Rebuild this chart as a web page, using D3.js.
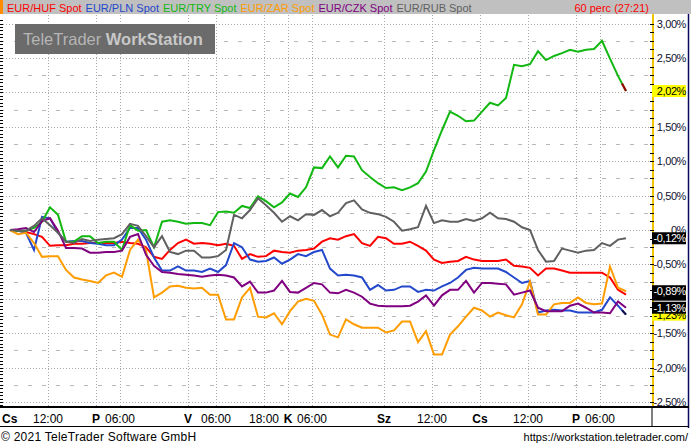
<!DOCTYPE html>
<html><head><meta charset="utf-8">
<script src="https://cdn.jsdelivr.net/npm/d3@7/dist/d3.min.js"></script>
<style>
body{margin:0;background:#fff;}
svg{display:block;font-family:"Liberation Sans",Arial,sans-serif;}
</style></head><body>
<svg id="c" width="691" height="446"></svg>
<script>
// ---------- data ----------
const seriesNames = ["EUR/HUF", "EUR/PLN", "EUR/TRY", "EUR/ZAR", "EUR/CZK", "EUR/RUB"];
const seriesColors = ["#ff0000", "#2448cc", "#12b812", "#ff9c00", "#800080", "#606060"];
const periodLabel = "60 perc (27:21)";

const hufValues = [0, -0.01, -0.03, -0.06, -0.10, -0.23, -0.22, -0.22, -0.20, -0.20,
  -0.19, -0.19, -0.19, -0.19, -0.17, -0.19, -0.20, -0.25, -0.39, -0.42,
  -0.29, -0.19, -0.14, -0.20, -0.19, -0.20, -0.22, -0.20, -0.23, -0.42,
  -0.35, -0.39, -0.38, -0.30, -0.32, -0.33, -0.30, -0.29, -0.27, -0.17,
  -0.12, -0.14, -0.09, -0.06, -0.19, -0.23, -0.10, -0.12, -0.20, -0.20,
  -0.17, -0.23, -0.30, -0.43, -0.48, -0.46, -0.45, -0.39, -0.43, -0.45,
  -0.45, -0.45, -0.43, -0.52, -0.53, -0.55, -0.66, -0.56, -0.56, -0.59,
  -0.62, -0.62, -0.62, -0.62, -0.62, -0.69, -0.87, -0.94];
const plnValues = [0, -0.01, -0.04, -0.29, 0.19, 0.17, -0.04, -0.17, -0.16, -0.16,
  -0.19, -0.20, -0.22, -0.22, -0.14, 0.03, 0.03, -0.14, -0.40, -0.59,
  -0.59, -0.53, -0.59, -0.59, -0.61, -0.56, -0.61, -0.51, -0.19, -0.25,
  -0.43, -0.46, -0.45, -0.40, -0.49, -0.43, -0.35, -0.38, -0.32, -0.29,
  -0.56, -0.66, -0.65, -0.66, -0.69, -0.87, -0.80, -0.88, -0.87, -0.82,
  -0.82, -0.90, -0.87, -0.88, -0.82, -0.77, -0.69, -0.58, -0.55, -0.56,
  -0.56, -0.56, -0.61, -0.69, -0.77, -0.74, -1.20, -1.17, -1.16, -1.17,
  -1.17, -1.20, -1.20, -1.20, -1.16, -0.98, -1.10, -1.23];
const tryValues = [0.00, -0.01, -0.01, 0.03, 0.12, 0.33, 0.22, -0.17, -0.17, -0.09,
  -0.09, -0.19, -0.17, -0.17, -0.29, 0.07, -0.01, 0.00, -0.25, 0.12,
  0.14, 0.12, 0.09, 0.10, 0.10, 0.07, 0.26, 0.27, 0.25, 0.35,
  0.32, 0.49, 0.42, 0.33, 0.40, 0.53, 0.48, 0.62, 0.91, 0.90,
  1.07, 0.91, 1.08, 1.07, 0.87, 0.77, 0.68, 0.61, 0.62, 0.58,
  0.62, 0.68, 0.85, 1.16, 1.45, 1.72, 1.66, 1.58, 1.59, 1.72,
  1.85, 1.81, 1.92, 2.40, 2.38, 2.41, 2.60, 2.47, 2.53, 2.57,
  2.62, 2.59, 2.62, 2.63, 2.75, 2.49, 2.24, 2.02];
const zarValues = [0, -0.06, -0.04, -0.19, -0.39, -0.38, -0.38, -0.58, -0.69, -0.72,
  -0.74, -0.77, -0.66, -0.62, -0.68, -0.29, -0.14, -0.29, -0.98, -0.91,
  -0.82, -0.81, -0.84, -0.85, -0.84, -0.94, -0.94, -1.30, -1.30, -0.98,
  -0.84, -1.26, -1.27, -1.21, -1.37, -1.18, -1.04, -1.00, -1.03, -1.23,
  -1.52, -1.56, -1.30, -1.37, -1.42, -1.42, -1.42, -1.49, -1.46, -1.33,
  -1.33, -1.63, -1.47, -1.81, -1.81, -1.52, -1.40, -1.26, -1.13, -1.17,
  -1.26, -1.20, -1.24, -1.27, -1.08, -0.75, -1.23, -1.23, -1.08, -1.06,
  -1.06, -0.98, -1.06, -1.08, -1.07, -0.53, -0.84, -0.89];
const czkValues = [0, 0.01, 0.03, -0.03, 0.13, 0.17, -0.01, -0.26, -0.26, -0.27,
  -0.33, -0.33, -0.32, -0.32, -0.30, -0.10, -0.06, -0.36, -0.52, -0.61,
  -0.62, -0.64, -0.65, -0.66, -0.68, -0.66, -0.65, -0.66, -0.69, -0.82,
  -0.75, -0.91, -0.91, -0.88, -0.74, -0.90, -0.91, -0.84, -0.77, -0.79,
  -0.91, -0.92, -0.87, -0.91, -0.97, -1.07, -1.10, -1.11, -1.11, -1.11,
  -1.10, -1.04, -0.95, -1.10, -0.95, -0.87, -0.87, -0.74, -0.91, -0.77,
  -0.77, -0.78, -0.79, -0.94, -0.91, -0.88, -1.13, -1.18, -1.18, -1.18,
  -1.10, -1.07, -1.13, -1.20, -1.20, -1.21, -1.04, -1.13];
const rubValues = [0, -0.01, -0.01, 0.06, 0.17, 0.07, -0.04, -0.17, -0.19, -0.13,
  -0.16, -0.14, -0.13, -0.12, -0.06, 0.09, 0.06, -0.09, -0.25, -0.09,
  -0.32, -0.35, -0.30, -0.30, -0.40, -0.40, -0.38, -0.29, 0.22, 0.17,
  0.29, 0.46, 0.36, 0.25, 0.12, 0.20, 0.14, 0.23, 0.22, 0.29,
  0.20, 0.25, 0.39, 0.43, 0.30, 0.25, 0.23, 0.19, 0.12, -0.01,
  0.01, 0.04, 0.35, 0.10, 0.14, 0.12, 0.12, 0.16, 0.13, 0.17,
  0.25, 0.17, 0.16, 0.12, 0.04, 0.00, -0.29, -0.46, -0.45, -0.27,
  -0.30, -0.33, -0.30, -0.29, -0.19, -0.23, -0.14, -0.12];

// bar index (60-minute bars) of each sample
const firstBar = 2.5, barStep = 2;
const barIndex = hufValues.map((_, i) => firstBar + barStep * i);

// last-value markers drawn on the price axis, in drawing order
// (HUF marker is hidden under the ZAR one in the original, so only its box shows)
const markerSeries = [2, 5, 1, 0, 3, 4];
const markerStyle = ["yellow", "black", "yellow", "black", "black", "black"];
const markerShowText = [true, true, true, false, true, true];

const yTickValues = [3, 2.5, 1.5, 1, 0.5, 0, -0.5, -1.5, -2, -2.5];
const yMinorStep = 0.125;
const gridBars = [12, 24, 30, 47, 54, 66, 72, 78, 96, 108, 120, 132, 144, 150];
const dayBars = [0, 24, 47, 72, 96, 120, 144];
const dayNames = ["Cs", "P", "V", "K", "Sz", "Cs", "P"];
const timeBars = [12, 30, 54, 66, 78, 108, 132, 150];
const timeNames = ["12:00", "06:00", "06:00", "18:00", "06:00", "12:00", "12:00", "06:00"];

const allSeries = [hufValues, plnValues, tryValues, zarValues, czkValues, rubValues];

// ---------- layout ----------
const W = 691, H = 446;
const plotL = 0, plotR = 652, plotT = 15, plotB = 408;
const x = d3.scaleLinear().domain([0, 163]).range([plotL, plotR]);
const y = d3.scaleLinear().domain([-2.5, 3]).range([402, 23.6]);
const fmt = v => v === 0 ? "0%" : v.toFixed(2).replace(".", ",") + "%";

const svg = d3.select("#c");
svg.append("rect").attr("width", W).attr("height", H).attr("fill", "#fff");

// gridlines
const grid = svg.append("g");
gridBars.forEach(b => {
  grid.append("line").attr("x1", Math.round(x(b)) + 0.5).attr("x2", Math.round(x(b)) + 0.5)
    .attr("y1", plotT).attr("y2", plotB).attr("stroke", "#a8a8a8").attr("stroke-dasharray", "1,2");
});
d3.range(-2.5, 3.01, 0.25).forEach(v => {
  const major = Math.abs(Math.round(v * 2) - v * 2) < 1e-6;
  const yy = Math.round(y(v)) + 0.5;
  grid.append("line").attr("x1", plotL).attr("x2", plotR).attr("y1", yy).attr("y2", yy)
    .attr("stroke", major ? "#a8a8a8" : "#b8b8b8")
    .attr("stroke-dasharray", major ? "1,2" : "4,10");
});

// left ruler ticks
d3.range(-2.55, 3.1, 0.05).forEach(v => {
  const yy = Math.round(y(v)) + 0.5;
  if (yy < plotT || yy > plotB) return;
  svg.append("line").attr("x1", 0).attr("x2", 3).attr("y1", yy).attr("y2", yy).attr("stroke", "#000");
});

// lines
svg.append("clipPath").attr("id", "clip").append("rect")
  .attr("x", plotL).attr("y", plotT).attr("width", plotR - plotL).attr("height", plotB - plotT);
const lineGen = d3.line().x((d, i) => x(barIndex[i])).y(d => y(d));
const lines = svg.append("g").attr("clip-path", "url(#clip)");
allSeries.forEach((s, k) => {
  lines.append("path").attr("d", lineGen(s)).attr("fill", "none")
    .attr("stroke", seriesColors[k]).attr("stroke-width", 2).attr("stroke-linejoin", "miter");
});
// current (last) bar segments
const n = barIndex.length;
[[2, "#a00000"], [1, "#101040"]].forEach(([k, c]) => {
  const s = allSeries[k];
  lines.append("line").attr("x1", x(barIndex[n - 2]) + 4).attr("y1", y(s[n - 2] + (s[n - 1] - s[n - 2]) * 0.5))
    .attr("x2", x(barIndex[n - 1])).attr("y2", y(s[n - 1])).attr("stroke", c).attr("stroke-width", 2);
});

// watermark
svg.append("rect").attr("x", 15).attr("y", 24).attr("width", 200).attr("height", 30).attr("fill", "#6b6b6b");
const wm = svg.append("text").attr("x", 23).attr("y", 45).attr("font-size", 16.5);
wm.append("tspan").attr("fill", "#b5b5b5").text("TeleTrader ");
wm.append("tspan").attr("fill", "#c8c8c8").attr("font-weight", "bold").text("WorkStation");

// header
svg.append("rect").attr("x", 0).attr("y", 0).attr("width", W).attr("height", 14).attr("fill", "#c0c0c0");
svg.append("rect").attr("x", 0).attr("y", 0).attr("width", 3).attr("height", 14).attr("fill", "#ff8c00");
let lx = 7;
seriesNames.forEach((nm, i) => {
  const t = svg.append("text").attr("x", lx).attr("y", 11.5).attr("font-size", 11)
    .attr("fill", seriesColors[i]).text(nm + " Spot");
  lx += t.node().getComputedTextLength() + 4;
});
svg.append("text").attr("x", 649).attr("y", 11.5).attr("font-size", 11).attr("text-anchor", "end")
  .attr("fill", "#ff0000").text(periodLabel);

// right price axis
const ax = svg.append("g");
ax.append("rect").attr("x", 652).attr("y", 14).attr("width", 37).attr("height", 394).attr("fill", "#fff");
ax.append("line").attr("x1", 653).attr("x2", 653).attr("y1", 14).attr("y2", plotB).attr("stroke", "#f2c400").attr("stroke-width", 2);
ax.append("line").attr("x1", 688.5).attr("x2", 688.5).attr("y1", 14).attr("y2", 428).attr("stroke", "#0a0a60").attr("stroke-width", 1.5);
d3.range(-2.5, 3.1, yMinorStep).forEach(v => {
  const yy = Math.round(y(v)) + 0.5;
  ax.append("line").attr("x1", 650).attr("x2", 654).attr("y1", yy).attr("y2", yy).attr("stroke", "#000");
});
yTickValues.forEach(v => {
  ax.append("text").attr("x", 686).attr("y", y(v) + 4).attr("text-anchor", "end")
    .attr("font-size", 11).attr("letter-spacing", -0.4).attr("fill", "#101030").text(fmt(v));
});
markerSeries.forEach((k, j) => {
  const v = allSeries[k][n - 1];
  const yy = y(v);
  const yellow = markerStyle[j] === "yellow";
  ax.append("rect").attr("x", 652).attr("y", yy - 6).attr("width", 34).attr("height", 12)
    .attr("fill", yellow ? "#ffff00" : "#000");
  if (markerShowText[j]) {
    ax.append("text").attr("x", 686).attr("y", yy + 4).attr("text-anchor", "end")
      .attr("font-size", 11).attr("letter-spacing", -0.4).attr("fill", yellow ? "#000" : "#fff").text(fmt(v));
  }
});

// bottom time axis
const bx = svg.append("g");
bx.append("rect").attr("x", 0).attr("y", 406).attr("width", 689).attr("height", 2).attr("fill", "#000");
bx.append("rect").attr("x", 0).attr("y", 426).attr("width", 689).attr("height", 1).attr("fill", "#000");
bx.append("line").attr("x1", 652).attr("x2", 652).attr("y1", 407).attr("y2", 427).attr("stroke", "#000");
dayBars.forEach((b, i) => {
  bx.append("text").attr("x", i === 0 ? 2 : x(b)).attr("y", 423)
    .attr("text-anchor", i === 0 ? "start" : "middle").attr("font-size", 12).attr("font-weight", "bold")
    .attr("fill", "#000").text(dayNames[i]);
});
timeBars.forEach((b, i) => {
  bx.append("text").attr("x", x(b)).attr("y", 423).attr("text-anchor", "middle")
    .attr("font-size", 12).attr("fill", "#000").text(timeNames[i]);
});

// footer
svg.append("text").attr("x", 1).attr("y", 441).attr("font-size", 12).attr("letter-spacing", 0.25)
  .attr("fill", "#000").text("© 2021 TeleTrader Software GmbH");
svg.append("text").attr("x", 688).attr("y", 441).attr("font-size", 11).attr("text-anchor", "end")
  .attr("fill", "#000").text("https://workstation.teletrader.com/");
</script>
</body></html>
